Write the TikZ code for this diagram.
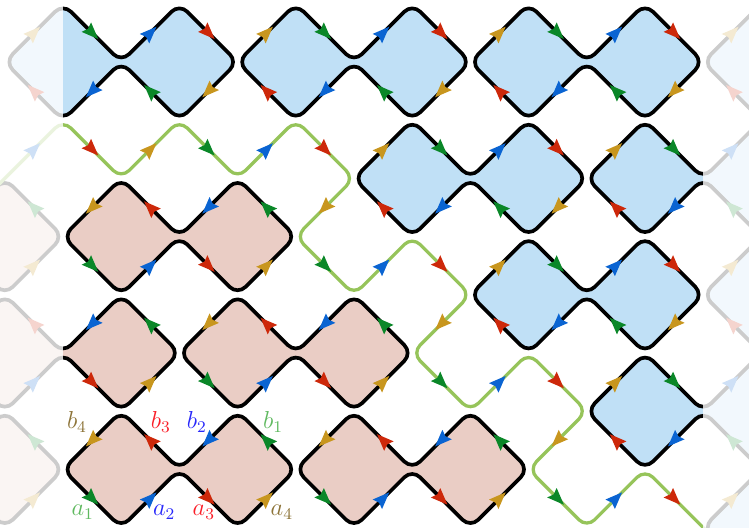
\documentclass[tikz,border=0pt]{standalone}
\definecolor{bfill}{RGB}{192,224,246}
\definecolor{pfill}{RGB}{234,205,197}
\definecolor{gpath}{RGB}{150,196,90}
\definecolor{cgreen}{RGB}{10,135,40}
\definecolor{cblue}{RGB}{10,100,210}
\definecolor{cred}{RGB}{205,40,10}
\definecolor{cgold}{RGB}{200,150,30}
\definecolor{lgreen}{RGB}{95,185,95}
\definecolor{lblue}{RGB}{40,40,250}
\definecolor{lred}{RGB}{250,30,40}
\definecolor{lgold}{RGB}{140,115,55}
\tikzset{
  shp/.style={line width=1.8pt, rounded corners=0.19cm, draw=black},
  gline/.style={line width=1.6pt, rounded corners=0.19cm, draw=gpath},
  lab/.style={font=\fontsize{12}{14}\selectfont, inner sep=0pt},
}
\newcommand\tipat[4]{\fill[fill=#4, shift={(#1,#2)}, rotate=#3] (0.15,0) -- (-0.14,0.115) -- (-0.1,0) -- (-0.14,-0.115) -- cycle;}
\newcommand\diamarr[3]{%
  \pgfmathtruncatemacro\sm{mod(#1+#2+400,4)}%
  \pgfmathtruncatemacro\dm{mod(#1-#2+400,4)}%
  \ifnum\sm=0 \def\cnw{cgold}\def\cse{cblue}\else\def\cnw{cblue}\def\cse{cgold}\fi
  \ifnum\dm=0 \def\cne{cgreen}\def\csw{cred}\else\def\cne{cred}\def\csw{cgreen}\fi
  \tipat{#1-0.5}{#2-0.5}{45+#3}{\cnw}
  \tipat{#1+0.5}{#2-0.5}{-45+#3}{\cne}
  \tipat{#1+0.5}{#2+0.5}{-135+#3}{\cse}
  \tipat{#1-0.5}{#2+0.5}{135+#3}{\csw}
}
\newcommand\twin[3]{\draw[shp, fill=#3] (#1-0.5,#2-0.5) -- (#1,#2-1) -- (#1+1,#2) -- (#1+2,#2-1) -- (#1+3,#2) -- (#1+2,#2+1) -- (#1+1,#2) -- (#1,#2+1) -- (#1-1,#2) -- cycle;}
\newcommand\single[3]{\draw[shp, fill=#3] (#1-0.5,#2-0.5) -- (#1,#2-1) -- (#1+1,#2) -- (#1,#2+1) -- (#1-1,#2) -- cycle;}
\begin{document}
\begin{tikzpicture}[x=1cm, y=-1cm]
\useasboundingbox (-1.0825,-1.0653) rectangle (11.787,7.990);
\clip (-1.0825,-1.0653) rectangle (11.787,7.990);
% blue shapes
\twin{0}{0}{bfill}
\twin{4}{0}{bfill}
\twin{8}{0}{bfill}
\single{12}{0}{bfill}
\twin{6}{2}{bfill}
\twin{10}{2}{bfill}
\twin{8}{4}{bfill}
\single{12}{4}{bfill}
\twin{10}{6}{bfill}
\single{12}{8}{bfill}
% pink shapes
\twin{1}{3}{pfill}
\single{-1}{3}{pfill}
\twin{-1}{5}{pfill}
\twin{3}{5}{pfill}
\twin{1}{7}{pfill}
\twin{5}{7}{pfill}
\single{-1}{7}{pfill}
% green path
\draw[gline] (-1.3,2.3) -- (0,1) -- (1,2) -- (2,1) -- (3,2) -- (4,1) -- (5,2) -- (4,3) -- (5,4) -- (6,3) -- (7,4) -- (6,5) -- (7,6) -- (8,5) -- (9,6) -- (8,7) -- (9,8) -- (10,7) -- (11,8) -- (11.3,8.3);
% arrows on diamonds
\foreach \c/\j in {0/0,2/0,4/0,6/0,8/0,10/0,12/0,6/2,8/2,10/2,12/2,8/4,10/4,12/4,10/6,12/6,12/8}{\diamarr{\c}{\j}{0}}
\foreach \c/\j in {1/3,3/3,-1/3,-1/5,1/5,3/5,5/5,1/7,3/7,5/7,7/7,-1/7}{\diamarr{\c}{\j}{180}}
% arrows on green path
\tipat{-0.5}{1.5}{45}{cblue}
\tipat{0.5}{1.5}{-45}{cred}
\tipat{1.5}{1.5}{45}{cgold}
\tipat{2.5}{1.5}{-45}{cgreen}
\tipat{3.5}{1.5}{45}{cblue}
\tipat{4.5}{1.5}{-45}{cred}
\tipat{4.5}{2.5}{225}{cgold}
\tipat{4.5}{3.5}{-45}{cgreen}
\tipat{5.5}{3.5}{45}{cblue}
\tipat{6.5}{3.5}{-45}{cred}
\tipat{6.5}{4.5}{225}{cgold}
\tipat{6.5}{5.5}{-45}{cgreen}
\tipat{7.5}{5.5}{45}{cblue}
\tipat{8.5}{5.5}{-45}{cred}
\tipat{8.5}{6.5}{225}{cgold}
\tipat{8.5}{7.5}{-45}{cgreen}
\tipat{9.5}{7.5}{45}{cblue}
\tipat{10.5}{7.5}{-45}{cred}
% faded margins
\fill[white, opacity=0.8] (-1.2,-1.2) rectangle (0,8.2);
\fill[white, opacity=0.8] (11,-1.2) rectangle (12,8.2);
% labels
\node[lab, text=lgreen] (la1) at (0.34,7.73) {$a_1$};
\node[lab, text=lblue] (la2) at (1.74,7.73) {$a_2$};
\node[lab, text=lred] (la3) at (2.42,7.73) {$a_3$};
\node[lab, text=lgold] (la4) at (3.76,7.73) {$a_4$};
\node[lab, text=lgold] (lb4) at (0.24,6.19) {$b_4$};
\node[lab, text=lred] (lb3) at (1.68,6.19) {$b_3$};
\node[lab, text=lblue] (lb2) at (2.30,6.19) {$b_2$};
\node[lab, text=lgreen] (lb1) at (3.61,6.19) {$b_1$};
\end{tikzpicture}
\end{document}
